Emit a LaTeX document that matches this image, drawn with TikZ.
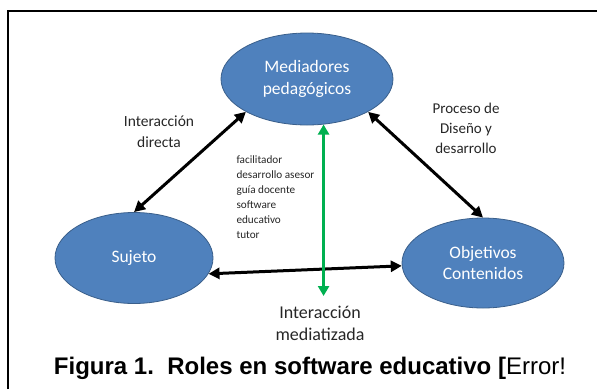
\documentclass[tikz,border=0pt]{standalone}
\usepackage{fontspec}
\setmainfont{Carlito}
\newfontfamily\arialfont{Liberation Sans}
\usetikzlibrary{shapes.geometric, positioning, arrows.meta}
\definecolor{rolazul}{HTML}{4F81BD}
\definecolor{rolborde}{HTML}{3A5F8B}
\definecolor{verdeflecha}{HTML}{00B050}

\begin{document}
\begin{tikzpicture}[x=1pt,y=-1pt,
    rol/.style={ellipse, draw=rolborde, line width=0.8pt, fill=rolazul, text=white,
        inner sep=0pt, align=center, font=\fontsize{17.5}{21.5}\selectfont},
    flecha/.style={{Triangle[length=11pt,width=11pt]}-{Triangle[length=11pt,width=11pt]},
        line width=3pt, black},
    etiqueta/.style={align=center, text=black!85}]
    \useasboundingbox (0,0) rectangle (597,389);

    % marco (solo izquierda y arriba)
    \draw[line width=2pt] (8,389) -- (8,11) -- (597,11);

    % los tres roles
    \node[rol, minimum width=172pt, minimum height=92pt] (med) at (307,79) {Mediadores\\pedagógicos};
    \node[rol, minimum width=158pt, minimum height=91pt] (suj) at (134,258) {Sujeto};
    \node[rol, minimum width=162pt, minimum height=90pt] (obj) at (483,263) {Objetivos\\Contenidos};

    % flechas dobles
    \draw[flecha] (suj.north) -- (med.south west);
    \draw[flecha] (med.south east) -- (obj.north);
    \draw[flecha] (suj.-12) -- (obj.182);

    % flecha verde (interaccion mediatizada)
    \coordinate (mediat) at (323,296);
    \draw[{Triangle[length=10pt,width=11pt]}-{Triangle[length=10pt,width=11pt]},
        line width=2.4pt, verdeflecha] (med.-70) -- (med.-70 |- mediat);

    % textos
    \node[etiqueta, font=\fontsize{15.5}{21}\selectfont] (directa) at (159,132) {Interacción\\directa};
    \node[etiqueta, font=\fontsize{15}{20}\selectfont] (diseno) at (466,128) {Proceso de\\Diseño y\\desarrollo};
    \node[etiqueta, align=left, anchor=west, font=\fontsize{11.2}{15}\selectfont] (lista) at (233,197)
        {facilitador\\desarrollo asesor\\guía docente\\software\\educativo\\tutor};
    \node[etiqueta, font=\fontsize{18}{22}\selectfont] (mediatizada) at (320,323) {Interacción\\mediatizada};

    % pie de figura
    \node[anchor=base, inner sep=0pt] (pie) at (310,374)
        {\arialfont\fontsize{24}{26}\selectfont\textbf{Figura 1.\ \ Roles en software educativo [}Error!};
\end{tikzpicture}
\end{document}
